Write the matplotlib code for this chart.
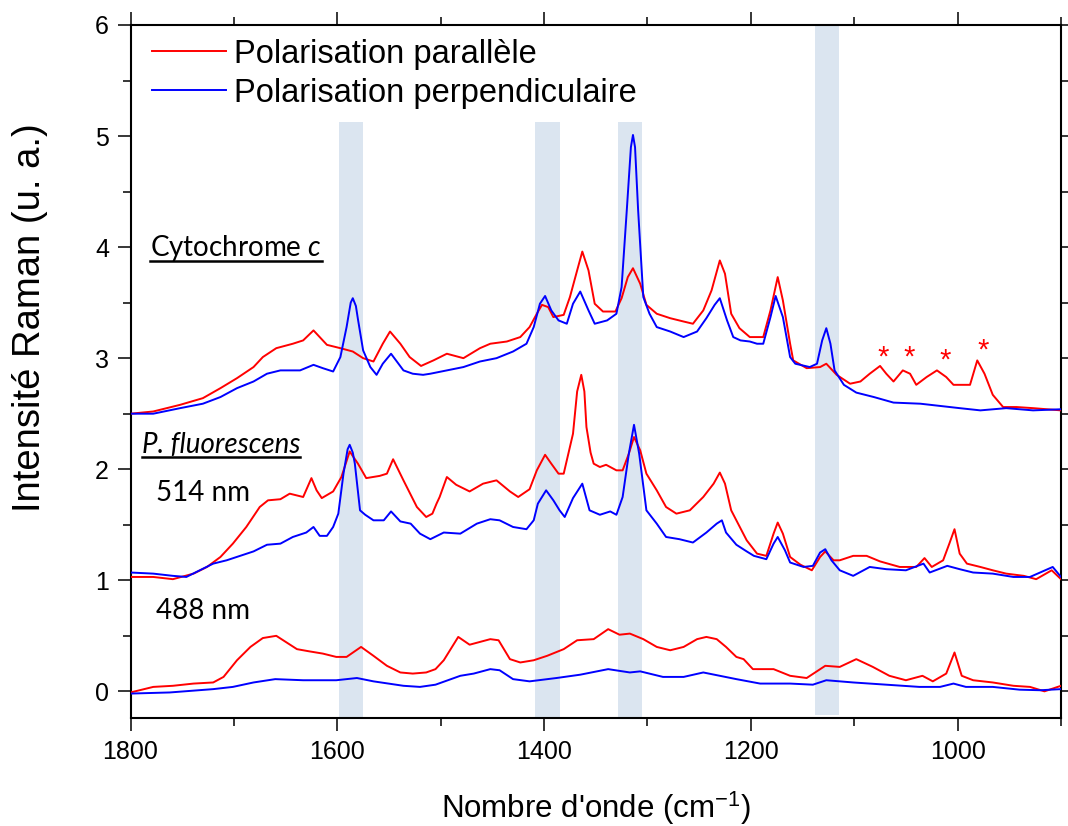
import matplotlib
matplotlib.use("Agg")
import matplotlib.pyplot as plt
import numpy as np
from matplotlib.ticker import MultipleLocator
from matplotlib.lines import Line2D
from matplotlib.transforms import IdentityTransform

# ---------------- data (wavenumber cm-1, intensity a.u.) ----------------
cyt_par = [(1800,2.50),(1778,2.52),(1752,2.58),(1730,2.64),(1713,2.73),(1697,2.82),(1681,2.92),(1672,3.01),
           (1659,3.09),(1643,3.13),(1633,3.16),(1623,3.25),(1617,3.19),(1610,3.12),(1597,3.09),(1585,3.06),
           (1575,3.00),(1565,2.97),(1556,3.13),(1549,3.24),(1539,3.13),(1530,3.01),(1519,2.93),(1507,2.98),
           (1494,3.04),(1478,3.00),(1462,3.09),(1452,3.13),(1436,3.15),(1423,3.19),(1414,3.28),(1407,3.40),
           (1402,3.48),(1396,3.46),(1391,3.37),(1381,3.39),(1375,3.55),(1368,3.79),(1363,3.96),(1357,3.79),
           (1351,3.49),(1343,3.42),(1331,3.42),(1325,3.54),(1319,3.73),(1314,3.81),(1307,3.67),(1301,3.48),
           (1291,3.40),(1278,3.36),(1265,3.33),(1256,3.31),(1246,3.43),(1238,3.61),(1230,3.88),(1225,3.76),
           (1219,3.40),(1211,3.27),(1201,3.19),(1188,3.19),(1181,3.43),(1174,3.73),(1169,3.52),(1162,3.13),
           (1159,2.98),(1146,2.91),(1133,2.92),(1127,2.95),(1117,2.85),(1104,2.77),(1094,2.79),(1085,2.86),
           (1075,2.93),(1069,2.86),(1062,2.79),(1053,2.89),(1046,2.86),(1040,2.76),(1030,2.83),(1020,2.89),
           (1011,2.83),(1004,2.76),(988,2.76),(981,2.98),(974,2.86),(966,2.67),(956,2.56),(943,2.56),
           (927,2.55),(900,2.53)]

cyt_perp = [(1800,2.50),(1778,2.50),(1752,2.55),(1730,2.59),(1713,2.65),(1697,2.73),(1681,2.79),(1668,2.86),
            (1655,2.89),(1636,2.89),(1623,2.94),(1614,2.91),(1604,2.88),(1597,3.01),(1591,3.28),(1587,3.50),
            (1585,3.54),(1582,3.47),(1580,3.35),(1575,3.07),(1568,2.92),(1562,2.85),(1556,2.95),(1548,3.04),
            (1536,2.89),(1527,2.86),(1517,2.85),(1510,2.86),(1494,2.89),(1478,2.92),(1462,2.97),(1446,3.00),
            (1430,3.06),(1417,3.13),(1410,3.28),(1404,3.49),(1399,3.56),(1393,3.43),(1386,3.34),(1378,3.31),
            (1372,3.49),(1365,3.60),(1357,3.43),(1351,3.31),(1339,3.34),(1330,3.40),(1325,3.64),(1320,4.33),
            (1316,4.90),(1314,5.01),(1312,4.90),(1309,4.33),(1304,3.55),(1298,3.40),(1291,3.28),(1278,3.24),
            (1265,3.19),(1252,3.24),(1243,3.36),(1235,3.48),(1230,3.54),(1223,3.34),(1217,3.19),(1210,3.16),
            (1201,3.15),(1194,3.13),(1188,3.13),(1181,3.37),(1176,3.56),(1169,3.37),(1162,3.01),(1157,2.95),
            (1143,2.92),(1136,2.95),(1131,3.16),(1127,3.27),(1123,3.13),(1119,2.89),(1110,2.76),(1098,2.69),
            (1081,2.65),(1062,2.60),(1036,2.59),(1017,2.57),(998,2.55),(978,2.53),(953,2.55),(927,2.53),
            (900,2.54)]

pf514_par = [(1800,1.03),(1778,1.03),(1759,1.01),(1739,1.06),(1726,1.12),(1713,1.21),(1701,1.33),(1688,1.48),
             (1675,1.66),(1667,1.72),(1655,1.73),(1646,1.78),(1633,1.75),(1625,1.92),(1620,1.81),(1615,1.74),
             (1604,1.80),(1596,1.93),(1588,2.16),(1580,2.05),(1572,1.92),(1559,1.94),(1552,1.96),(1546,2.09),
             (1536,1.90),(1523,1.66),(1514,1.57),(1508,1.60),(1504,1.69),(1501,1.75),(1494,1.93),(1485,1.86),
             (1472,1.80),(1459,1.87),(1446,1.90),(1433,1.80),(1425,1.75),(1414,1.82),(1407,1.99),(1399,2.13),
             (1393,2.05),(1386,1.96),(1381,1.96),(1378,2.08),(1372,2.32),(1368,2.70),(1364,2.85),(1361,2.70),
             (1359,2.38),(1355,2.15),(1352,2.05),(1346,2.02),(1340,2.04),(1330,1.99),(1324,1.99),(1318,2.14),
             (1313,2.29),(1307,2.17),(1301,1.96),(1291,1.81),(1282,1.66),(1272,1.60),(1259,1.63),(1246,1.75),
             (1236,1.87),(1230,1.97),(1225,1.87),(1219,1.63),(1209,1.45),(1204,1.36),(1194,1.24),(1185,1.22),
             (1178,1.42),(1174,1.52),(1169,1.42),(1162,1.21),(1152,1.14),(1141,1.09),(1133,1.21),(1128,1.26),
             (1120,1.18),(1114,1.18),(1101,1.22),(1088,1.22),(1075,1.17),(1056,1.12),(1040,1.12),(1032,1.20),
             (1025,1.12),(1014,1.18),(1008,1.33),(1003,1.46),(998,1.24),(991,1.15),(978,1.12),(966,1.09),
             (953,1.06),(936,1.04),(924,1.01),(909,1.09),(900,1.01)]

pf514_perp = [(1800,1.07),(1778,1.06),(1759,1.04),(1746,1.03),(1733,1.09),(1720,1.15),(1707,1.18),(1694,1.22),
              (1681,1.26),(1668,1.32),(1655,1.33),(1643,1.39),(1630,1.43),(1623,1.48),(1617,1.40),(1610,1.40),
              (1604,1.48),(1599,1.60),(1594,1.96),(1590,2.18),(1588,2.22),(1585,2.15),(1583,2.05),(1578,1.63),
              (1573,1.59),(1565,1.54),(1555,1.54),(1548,1.62),(1539,1.53),(1529,1.51),(1520,1.42),(1510,1.37),
              (1497,1.43),(1481,1.42),(1465,1.51),(1452,1.55),(1443,1.54),(1430,1.48),(1417,1.46),(1410,1.54),
              (1406,1.69),(1398,1.81),(1391,1.72),(1385,1.63),(1380,1.57),(1372,1.74),(1363,1.87),(1356,1.63),
              (1346,1.59),(1336,1.62),(1330,1.59),(1324,1.75),(1318,2.14),(1313,2.40),(1308,2.14),(1301,1.63),
              (1291,1.51),(1282,1.39),(1269,1.37),(1256,1.34),(1243,1.43),(1233,1.51),(1228,1.54),(1224,1.43),
              (1214,1.32),(1204,1.26),(1197,1.22),(1185,1.19),(1178,1.33),(1174,1.39),(1167,1.27),(1162,1.16),
              (1149,1.12),(1140,1.13),(1133,1.25),(1128,1.28),(1122,1.18),(1114,1.09),(1101,1.04),(1085,1.12),
              (1069,1.10),(1050,1.09),(1033,1.15),(1027,1.07),(1010,1.13),(998,1.10),(985,1.07),(966,1.06),
              (946,1.03),(930,1.03),(908,1.12),(900,1.03)]

pf488_par = [(1800,-0.01),(1778,0.04),(1759,0.05),(1739,0.07),(1720,0.08),(1710,0.13),(1697,0.28),(1684,0.40),
             (1672,0.48),(1659,0.50),(1649,0.44),(1639,0.38),(1627,0.36),(1614,0.34),(1601,0.31),(1591,0.31),
             (1577,0.40),(1565,0.32),(1552,0.23),(1539,0.17),(1527,0.16),(1514,0.17),(1505,0.20),(1497,0.28),
             (1483,0.49),(1472,0.42),(1452,0.47),(1444,0.46),(1433,0.29),(1423,0.26),(1410,0.28),(1397,0.32),
             (1381,0.38),(1368,0.46),(1352,0.47),(1338,0.56),(1327,0.51),(1317,0.52),(1304,0.47),(1291,0.40),
             (1278,0.37),(1265,0.40),(1252,0.47),(1243,0.49),(1233,0.47),(1224,0.40),(1214,0.31),(1207,0.29),
             (1198,0.20),(1178,0.20),(1162,0.14),(1146,0.12),(1128,0.23),(1114,0.22),(1098,0.29),(1082,0.22),
             (1066,0.14),(1050,0.10),(1034,0.14),(1024,0.09),(1011,0.16),(1003,0.35),(996,0.14),(985,0.10),
             (966,0.08),(946,0.05),(930,0.04),(916,0.00),(900,0.05)]

pf488_perp = [(1800,-0.02),(1762,-0.01),(1720,0.02),(1701,0.04),(1681,0.08),(1660,0.11),(1633,0.10),(1601,0.10),
              (1581,0.12),(1565,0.09),(1536,0.05),(1520,0.04),(1505,0.06),(1481,0.14),(1468,0.16),(1452,0.20),
              (1443,0.19),(1430,0.11),(1414,0.09),(1388,0.12),(1365,0.15),(1338,0.20),(1317,0.17),(1307,0.18),
              (1285,0.13),(1265,0.13),(1246,0.17),(1230,0.14),(1214,0.11),(1191,0.07),(1162,0.07),(1140,0.06),
              (1127,0.10),(1101,0.08),(1069,0.06),(1037,0.04),(1017,0.04),(1004,0.07),(992,0.04),(966,0.04),
              (940,0.015),(920,0.01),(900,0.02)]

# shaded bands: (high, low, top value, bottom value)
bands = [(1598, 1575, 5.13, -0.24), (1409, 1385, 5.13, -0.24),
         (1328, 1305, 5.13, -0.24), (1138, 1115, 6.0, -0.21)]

# asterisks marking peaks (wavenumber, y)
star_w = [1072, 1047, 1012, 975]
star_y = [3.01, 3.01, 2.98, 3.07]

legend_labels = ["Polarisation parallèle", "Polarisation perpendiculaire"]
x_range = (1800, 900)
y_range = (-0.24, 6.0)

RED = "#ff0000"
BLUE = "#0000ff"
BAND = "#dbe5f0"

plt.rcParams['font.family'] = ['Liberation Sans', 'DejaVu Sans']
plt.rcParams['mathtext.fontset'] = 'custom'
plt.rcParams['mathtext.rm'] = 'Liberation Sans'
plt.rcParams['mathtext.it'] = 'Lato:italic'

W, H = 1068, 826
fig = plt.figure(figsize=(W / 100, H / 100), dpi=100)
ax = fig.add_axes([130.5 / W, 1 - 718 / H, 930.5 / W, 693 / H])

ylo, yhi = y_range
for hi, lo, top, bot in bands:
    ax.axvspan(lo, hi, ymin=(bot - ylo) / (yhi - ylo), ymax=(top - ylo) / (yhi - ylo),
               color=BAND, lw=0, zorder=0)

def plot_series(data, color, label=None):
    arr = np.array(data)
    return ax.plot(arr[:, 0], arr[:, 1], color=color, lw=1.4, zorder=3, label=label)[0]

l1 = plot_series(cyt_par, RED, legend_labels[0])
l2 = plot_series(cyt_perp, BLUE, legend_labels[1])
plot_series(pf514_par, RED)
plot_series(pf514_perp, BLUE)
plot_series(pf488_par, RED)
plot_series(pf488_perp, BLUE)

ax.set_xlim(*x_range)
ax.set_ylim(*y_range)
ax.xaxis.set_major_locator(MultipleLocator(200))
ax.xaxis.set_minor_locator(MultipleLocator(100))
ax.yaxis.set_major_locator(MultipleLocator(1))
ax.yaxis.set_minor_locator(MultipleLocator(0.5))
ax.tick_params(which='both', direction='out', top=True, right=True,
               labeltop=False, labelright=False, width=1.1, labelsize=18)
ax.tick_params(which='major', length=9.5, pad=6)
ax.tick_params(which='minor', length=5.5)
for s in ax.spines.values():
    s.set_linewidth(1.5)

for w, y in zip(star_w, star_y):
    ax.text(w, y, "*", color=RED, fontsize=21, ha='center', va='center', zorder=4)

leg = ax.legend(handles=[l1, l2], loc='upper left', bbox_to_anchor=(0.0226, 0.98),
                frameon=False, fontsize=23.5, handlelength=2.27, handletextpad=0.27,
                labelspacing=0.24, borderpad=0, borderaxespad=0)

fig.text(596 / W, 1 - 818 / H, "Nombre d'onde (cm$^{-1}$)", fontsize=22.5,
         ha='center', va='baseline')
fig.text(30 / W, 1 - 318 / H, "Intensité Raman (u. a.)", fontsize=27.5,
         rotation=90, ha='center', va='center')

ann_font = 'Lato'
t_cyt = ax.text(1781, 3.92, r"Cytochrome $\mathit{c}$", fontsize=20, family=ann_font,
                ha='left', va='baseline')
t_pf = ax.text(1789, 2.15, "P. fluorescens", fontsize=20, family=ann_font, style='italic',
               ha='left', va='baseline')
ax.text(1775, 1.71, "514 nm", fontsize=20, family=ann_font, ha='left', va='baseline')
ax.text(1775, 0.65, "488 nm", fontsize=20, family=ann_font, ha='left', va='baseline')

fig.canvas.draw()
renderer = fig.canvas.get_renderer()
for t in (t_cyt, t_pf):
    bb = t.get_window_extent(renderer)
    base = ax.transData.transform(t.get_position())[1]
    yl = base - 4.5
    fig.add_artist(Line2D([bb.x0, bb.x1], [yl, yl], transform=IdentityTransform(),
                          color='black', lw=1.8))

fig.savefig("out.png", dpi=100)
